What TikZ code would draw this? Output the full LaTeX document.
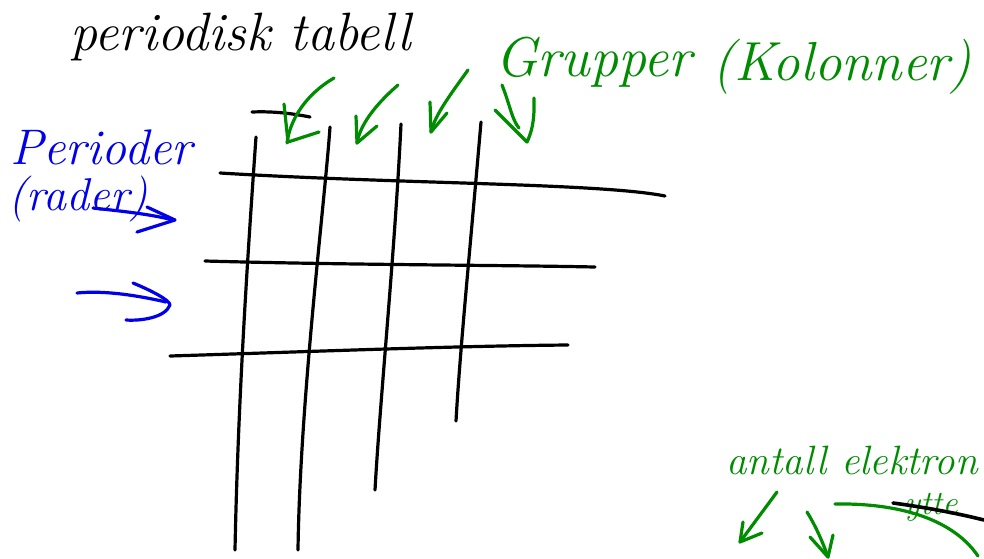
\documentclass[tikz,border=0pt]{standalone}
\usepackage{fontspec}
\definecolor{pgreen}{RGB}{0,140,0}
\definecolor{pblue}{RGB}{0,0,235}
\tikzset{
  ink/.style={line width=3.2pt,line cap=round,line join=round},
  hand/.style={inner sep=0pt,anchor=base west},
}
\newcommand{\hs}[1]{\fontsize{#1}{#1}\selectfont\itshape}
\begin{document}
\begin{tikzpicture}[x=1pt,y=-1pt]
\useasboundingbox (0,0) rectangle (984,558);
\fill[white] (0,0) rectangle (984,558);
% title
\node[hand] (title) at (70,50) {\hs{54}periodisk tabell};
% grid
\draw[ink] (252,112) .. controls (275,111) and (295,114) .. (310,117);
\draw[ink] (220,173) .. controls (400,184) and (600,183) .. (665,196);
\draw[ink] (205,261) .. controls (350,265) and (500,265) .. (595,267);
\draw[ink] (170,356) .. controls (300,352) and (450,346) .. (568,345);
\draw[ink] (256,137) .. controls (248,250) and (238,400) .. (235,550);
\draw[ink] (330,127) .. controls (325,200) and (300,400) .. (298,550);
\draw[ink] (401,124) .. controls (395,250) and (380,400) .. (375,490);
\draw[ink] (481,122) .. controls (470,250) and (460,350) .. (456,421);
% groups
\node[hand,text=pgreen] (grupper) at (495,76) {\hs{56}Grupper};
\node[hand,text=pgreen] (kolonner) at (712,80) {\hs{55}(Kolonner)};
\begin{scope}[pgreen]
\draw[ink] (334,78) .. controls (305,95) and (290,120) .. (287,143);
\draw[ink] (284,104) -- (288,142) -- (319,132);
\draw[ink] (398,85) .. controls (375,105) and (360,125) .. (357,143);
\draw[ink] (356,116) -- (357,143) -- (377,126);
\draw[ink] (468,70) .. controls (450,95) and (435,115) .. (431,132);
\draw[ink] (430,102) -- (431,132) -- (447,113);
\draw[ink] (502,85) .. controls (510,105) and (512,120) .. (519,128);
\draw[ink] (495,110) -- (527,142) .. controls (535,125) and (534,110) .. (534,98);
\end{scope}
% periods
\node[hand,text=pblue] (perioder) at (10,164) {\hs{50}Perioder};
\node[hand,text=pblue] (rader) at (8,210) {\hs{46}(rader)};
\begin{scope}[pblue]
\draw[ink] (93,208) .. controls (120,211) and (150,214) .. (173,220);
\draw[ink] (147,207) -- (175,220) -- (137,232);
\draw[ink] (77,293) .. controls (105,290) and (140,296) .. (166,302);
\draw[ink] (133,283) .. controls (150,290) and (170,300) .. (170,305) .. controls (165,318) and (140,321) .. (126,320);
\end{scope}
% bottom right
\node[hand,text=pgreen] (antall) at (726,474) {\hs{41}antall elektron};
\node[hand,text=pgreen] (ytte) at (904,514) {\hs{34}ytte};
\draw[ink,line width=3.6pt] (893,503) .. controls (930,508) and (960,514) .. (984,520);
\begin{scope}[pgreen]
\draw[ink] (835,504) .. controls (890,503) and (950,515) .. (978,556);
\draw[ink] (777,492) -- (740,542);
\draw[ink] (743,522) -- (740,542) -- (762,533);
\draw[ink] (807,512) .. controls (815,525) and (822,540) .. (828,557);
\draw[ink] (810,537) -- (828,557) -- (833,535);
\end{scope}
\end{tikzpicture}
\end{document}
